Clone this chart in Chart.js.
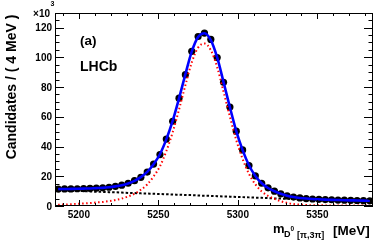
<!DOCTYPE html>
<html><head><meta charset="utf-8">
<script src="https://cdn.jsdelivr.net/npm/chart.js@4.4.1/dist/chart.umd.min.js"></script>
<style>html,body{margin:0;padding:0;background:#fff;overflow:hidden}canvas{display:block}</style>
</head><body>
<canvas id="c" width="392" height="246"></canvas>
<script>
// bin centres (MeV), 4 MeV bins
const massBins = [5187,5191,5195,5199,5203,5207,5211,5215,5219,5223,
  5227,5231,5235,5239,5243,5247,5251,5255,5259,5263,
  5267,5271,5275,5279,5283,5287,5291,5295,5299,5303,
  5307,5311,5315,5319,5323,5327,5331,5335,5339,5343,
  5347,5351,5355,5359,5363,5367,5371,5375,5379,5383];
// candidates per bin (x10^3)
const dataCounts = [11.4,11.5,11.5,11.6,11.7,11.8,12.0,12.2,12.6,13.2,
  14.0,15.3,17.0,19.3,22.8,28.2,34.6,45.0,57.0,72.5,
  88.3,104.0,114.0,116.3,112.0,99.8,83.2,66.5,50.3,37.7,
  27.2,20.3,15.3,12.2,10.0,8.2,6.8,6.0,5.4,5.0,
  4.7,4.5,4.3,4.2,4.0,3.9,3.8,3.7,3.6,3.5];
const totalFit = [11.4,11.4,11.5,11.6,11.7,11.8,12.0,12.2,12.6,13.2,
  14.0,15.2,16.9,19.4,22.9,28.1,34.8,44.8,57.2,72.4,
  88.6,103.8,113.6,116.2,111.6,99.9,83.3,66.4,50.4,37.6,
  27.4,20.2,15.3,12.1,9.9,8.2,6.9,6.0,5.4,5.0,
  4.7,4.5,4.3,4.1,4.0,3.9,3.8,3.7,3.6,3.5];
const signalFit = [0.8,1.0,1.2,1.5,1.7,2.0,2.4,2.7,3.3,4.0,
  5.0,6.4,8.2,10.9,14.5,19.9,26.7,36.9,49.5,64.8,
  81.2,96.5,106.5,109.3,104.8,93.3,76.9,60.1,44.3,31.6,
  21.6,14.6,9.8,6.8,4.8,3.2,2.1,1.3,0.9,0.7,
  0.5,0.5,0.4,0.4,0.4,0.4,0.3,0.3,0.3,0.3];
const backgroundFit = [10.6,10.4,10.3,10.1,10.0,9.8,9.6,9.5,9.3,9.2,
  9.0,8.8,8.7,8.5,8.4,8.2,8.1,7.9,7.7,7.6,
  7.4,7.3,7.1,6.9,6.8,6.6,6.4,6.3,6.1,6.0,
  5.8,5.6,5.5,5.3,5.1,5.0,4.8,4.7,4.5,4.3,
  4.2,4.0,3.9,3.7,3.6,3.4,3.3,3.1,3.0,2.8];
const xTickValues = [5200,5250,5300,5350];
const xTickLabels = ['5200','5250','5300','5350'];
const yTickValues = [0,20,40,60,80,100,120];
const yTickLabels = ['0','20','40','60','80','100','120'];

const pts = ys => massBins.map((m,i)=>({x:m,y:ys[i]}));
const F = '"Liberation Sans", Arial, Helvetica, sans-serif';

const decor = {
  id:'decor',
  afterDatasetsDraw(chart){
    const {ctx, chartArea:a, scales:{x,y}} = chart;
    ctx.save();
    ctx.strokeStyle='#000'; ctx.lineWidth=1;
    // frame
    ctx.strokeRect(Math.round(a.left)+0.5, Math.round(a.top)+0.5, Math.round(a.right-a.left)-1, Math.round(a.bottom-a.top)-1);
    // x ticks (minor every 10, major every 50)
    ctx.beginPath();
    for(let v=x.min; v<=x.max; v+=1){
      if(v%10!==0) continue;
      const px=Math.round(x.getPixelForValue(v))+0.5;
      const L = (v%50===0)?6:3;
      ctx.moveTo(px,a.bottom); ctx.lineTo(px,a.bottom-L);
      ctx.moveTo(px,a.top); ctx.lineTo(px,a.top+L);
    }
    // y ticks (minor every 5, major every 20)
    for(let v=0; v<=y.max; v+=5){
      const py=Math.round(y.getPixelForValue(v))+0.5;
      const L = (v%20===0)?9:4.5;
      ctx.moveTo(a.left,py); ctx.lineTo(a.left+L,py);
      ctx.moveTo(a.right,py); ctx.lineTo(a.right-L,py);
    }
    ctx.stroke();
    // tick labels
    ctx.fillStyle='#000';
    ctx.font='bold 10px '+F;
    ctx.textAlign='center'; ctx.textBaseline='alphabetic';
    xTickValues.forEach((v,i)=>ctx.fillText(xTickLabels[i], x.getPixelForValue(v), 218));
    ctx.textAlign='right';
    yTickValues.forEach((v,i)=>ctx.fillText(yTickLabels[i], a.left-3, y.getPixelForValue(v)+3.6));
    // x10^3
    ctx.fillText('\u00d710', 50, 16.5);
    ctx.font='bold 7px '+F; ctx.textAlign='left';
    ctx.fillText('3', 50.5, 5.5);
    // labels in plot
    ctx.font='bold 13.5px '+F;
    ctx.fillText('(a)', 80, 44.5);
    ctx.font='bold 14px '+F;
    ctx.fillText('LHCb', 80, 70.5);
    // y title
    ctx.save();
    ctx.translate(15.5, 87);
    ctx.rotate(-Math.PI/2);
    ctx.font='bold 14px '+F; ctx.textAlign='center';
    ctx.fillText('Candidates / ( 4 MeV )', 0, 0);
    ctx.restore();
    // x title
    ctx.textAlign='left';
    ctx.font='bold 13px '+F;
    ctx.fillText('m', 273, 233);
    ctx.font='bold 9px '+F;
    ctx.fillText('D', 284, 236.5);
    ctx.font='bold 6.5px '+F;
    ctx.fillText('0', 290.5, 230.5);
    ctx.font='bold 9px '+F;
    ctx.fillText('[\u03c0,3\u03c0]', 297, 237.5);
    ctx.font='bold 13.5px '+F;
    ctx.fillText('[MeV]', 333, 234.5);
    ctx.restore();
  }
};

new Chart(document.getElementById('c'), {
  type:'scatter',
  data:{datasets:[
    {label:'data', data:pts(dataCounts), pointRadius:3.6, pointBackgroundColor:'#000', pointBorderColor:'#000', pointBorderWidth:0, showLine:false, order:4},
    {label:'background', data:pts(backgroundFit), showLine:true, pointRadius:0, borderColor:'#000', borderWidth:2, borderDash:[2.5,2], cubicInterpolationMode:'monotone', order:3},
    {label:'signal', data:pts(signalFit), showLine:true, pointRadius:0, borderColor:'#ff0000', borderWidth:2, borderDash:[1.5,2.5], cubicInterpolationMode:'monotone', order:2},
    {label:'total', data:pts(totalFit), showLine:true, pointRadius:0, borderColor:'#0000ff', borderWidth:2.6, cubicInterpolationMode:'monotone', order:1}
  ]},
  options:{
    responsive:false, animation:false, devicePixelRatio:1,
    layout:{padding:{left:55, top:13, right:19, bottom:40}},
    scales:{
      x:{type:'linear', min:5185, max:5385, display:false},
      y:{type:'linear', min:0, max:129.8, display:false}
    },
    plugins:{legend:{display:false}, tooltip:{enabled:false}}
  },
  plugins:[decor]
});
</script>
</body></html>
